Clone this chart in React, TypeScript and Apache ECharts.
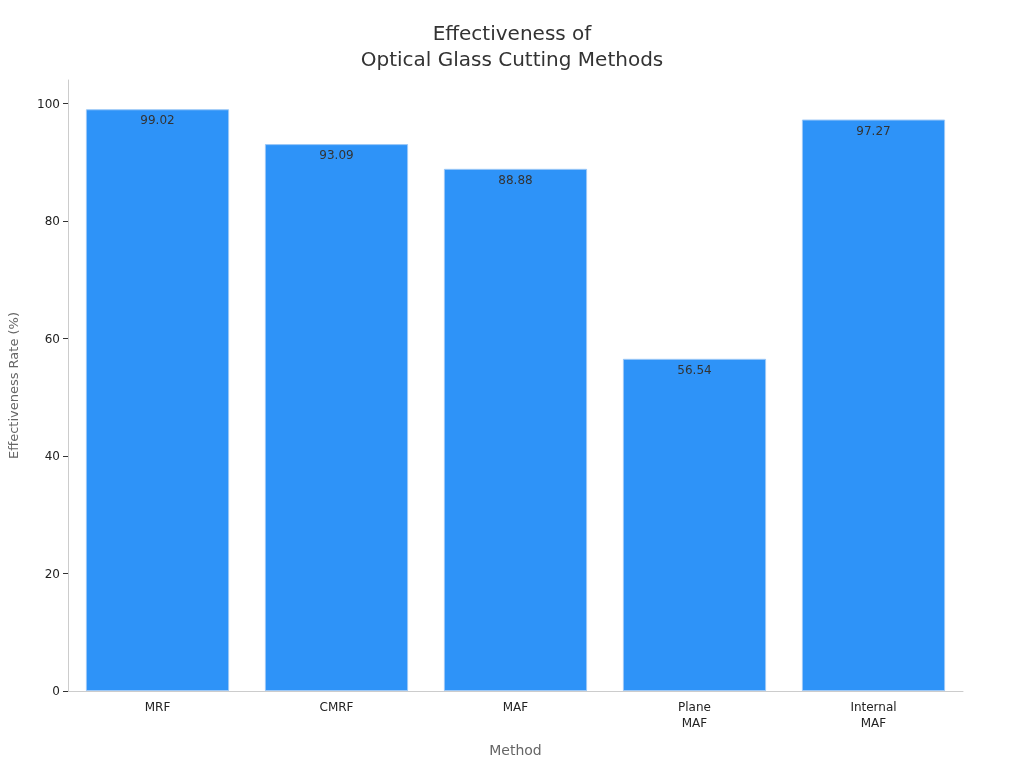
import { useEffect, useRef } from "react";
import * as echarts from "echarts";

const methods = ["MRF", "CMRF", "MAF", "Plane\nMAF", "Internal\nMAF"];
const rates = [99.02, 93.09, 88.88, 56.54, 97.27];
const yTicks = [0, 20, 40, 60, 80, 100];

const FONT = "DejaVu Sans";

export default function App() {
  const chartRef = useRef<HTMLDivElement>(null);

  useEffect(() => {
    if (!chartRef.current) return;
    const chart = echarts.init(chartRef.current, undefined, { renderer: "svg" });
    chart.setOption({
      animation: false,
      textStyle: { fontFamily: FONT },
      title: {
        text: "Effectiveness of\nOptical Glass Cutting Methods",
        left: "center",
        top: 15,
        textStyle: { fontFamily: FONT, fontSize: 20, fontWeight: "normal", color: "#333", lineHeight: 26 },
      },
      grid: { left: 68, right: 61, top: 80, bottom: 77, containLabel: false, outerBoundsMode: "none" },
      xAxis: {
        type: "category",
        data: methods,
        name: "Method",
        nameLocation: "middle",
        nameGap: 52,
        nameTextStyle: { fontFamily: FONT, fontSize: 14, color: "#666" },
        axisLine: { lineStyle: { color: "#ccc" } },
        axisTick: { alignWithLabel: true, length: 5, lineStyle: { color: "#333" } },
        axisLabel: { fontFamily: FONT, fontSize: 12, color: "#222", lineHeight: 16, margin: 8 },
      },
      yAxis: {
        type: "value",
        min: 0,
        max: 104,
        interval: 20,
        name: "Effectiveness Rate (%)",
        nameLocation: "middle",
        nameGap: 48,
        nameTextStyle: { fontFamily: FONT, fontSize: 13, color: "#666" },
        axisLine: { show: true, lineStyle: { color: "#ccc" } },
        axisTick: { show: true, length: 5, lineStyle: { color: "#333" }, customValues: yTicks },
        axisLabel: {
          fontFamily: FONT,
          fontSize: 12,
          color: "#222",
          margin: 8,
          customValues: yTicks,
        },
        splitLine: { show: false },
      },
      series: [
        {
          type: "bar",
          data: rates,
          barCategoryGap: "20%",
          itemStyle: { color: "#2e93f8", borderColor: "#9cc8f7", borderWidth: 1 },
          label: {
            show: true,
            position: "insideTop",
            distance: 5,
            fontFamily: FONT,
            fontSize: 12,
            color: "#333",
            formatter: (p: any) => p.value.toFixed(2),
          },
          emphasis: { disabled: true },
        },
      ],
    });
    return () => chart.dispose();
  }, []);

  return (
    <div
      ref={chartRef}
      style={{ position: "fixed", left: 0, top: 0, width: 1024, height: 768 }}
    />
  );
}
